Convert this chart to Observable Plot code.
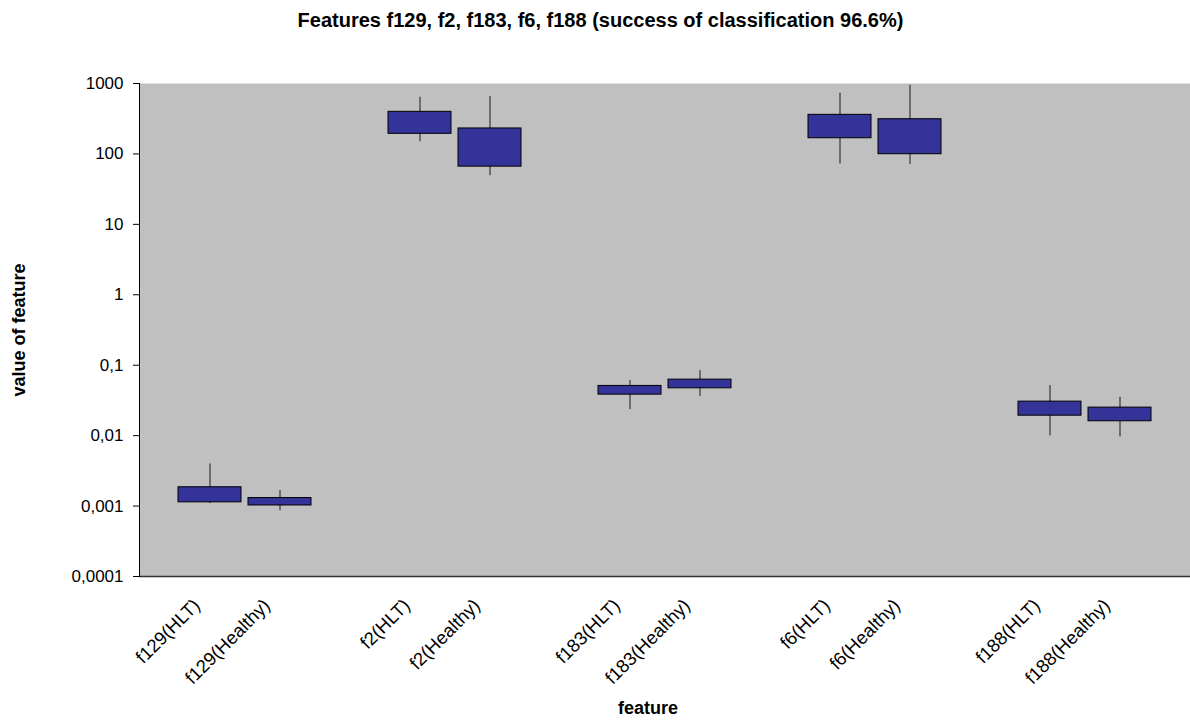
<!DOCTYPE html>
<html><head><meta charset="utf-8">
<script src="https://cdn.jsdelivr.net/npm/d3@7"></script>
<script src="https://cdn.jsdelivr.net/npm/@observablehq/plot@0.6"></script>
<style>body{margin:0;background:#fff;}</style>
</head><body><div id="chart"></div>
<script>
// Category slots (gaps between feature pairs are empty slots)
const categories = ["f129(HLT)", "f129(Healthy)", "gap1", "f2(HLT)", "f2(Healthy)", "gap2",
  "f183(HLT)", "f183(Healthy)", "gap3", "f6(HLT)", "f6(Healthy)", "gap4", "f188(HLT)", "f188(Healthy)"];
const features = ["f129(HLT)", "f129(Healthy)", "f2(HLT)", "f2(Healthy)", "f183(HLT)", "f183(Healthy)",
  "f6(HLT)", "f6(Healthy)", "f188(HLT)", "f188(Healthy)"];
const low  = [0.00109, 0.00086, 149, 49, 0.0234, 0.0361, 72, 71, 0.0099, 0.0096];
const q1   = [0.00113, 0.00102, 193, 66, 0.0382, 0.047, 167, 99, 0.0192, 0.016];
const q3   = [0.00185, 0.0013, 396, 230, 0.0508, 0.0624, 359, 311, 0.0304, 0.025];
const high = [0.00396, 0.00166, 639, 653, 0.0604, 0.0838, 728, 945, 0.0513, 0.035];
const yTicks = [0.0001, 0.001, 0.01, 0.1, 1, 10, 100, 1000];
const title = "Features f129, f2, f183, f6, f188 (success of classification 96.6%)";
const xTitle = "feature";
const yTitle = "value of feature";

const data = features.map((f, i) => ({feature: f, low: low[i], q1: q1[i], q3: q3[i], high: high[i]}));

const chart = Plot.plot({
  width: 1190, height: 722,
  marginTop: 83, marginLeft: 139, marginRight: 0, marginBottom: 146,
  style: {fontFamily: "'Liberation Sans', Arial, sans-serif", fontSize: "17px", color: "#000", background: "#fff"},
  x: {type: "band", domain: categories, range: [174, 1154], paddingInner: 0.1, paddingOuter: 0.05, axis: null},
  y: {type: "log", domain: [1e-4, 1e3], axis: null},
  marks: [
    Plot.frame({fill: "#C0C0C0"}),
    Plot.ruleX(data, {x: "feature", y1: "low", y2: "high", stroke: "#1a1a1a", strokeWidth: 1}),
    Plot.barY(data, {x: "feature", y1: "q1", y2: "q3", fill: "#333399", stroke: "#000", strokeWidth: 1}),
    Plot.ruleY([1e-4], {stroke: "#333", strokeWidth: 1.5}),
    Plot.frame({anchor: "left", stroke: "#000"}),
    Plot.axisY({ticks: yTicks, tickSize: 6, tickPadding: 10, tickFormat: d => String(d).replace(".", ","), label: null}),
    Plot.axisX({tickSize: 0, tickRotate: -45, tickPadding: 26, dx: -13, textAnchor: "end", lineAnchor: "middle",
      fontSize: 18.5, tickFormat: d => d.startsWith("gap") ? "" : d, label: null}),
    Plot.text([title], {text: d => d, frameAnchor: "top", dx: -64.5, dy: -63, lineAnchor: "middle", textAnchor: "middle",
      fontWeight: "bold", fontSize: 20}),
    Plot.text([yTitle], {text: d => d, frameAnchor: "left", dx: -120, rotate: -90, textAnchor: "middle", lineAnchor: "middle",
      fontWeight: "bold", fontSize: 18}),
    Plot.text([xTitle], {text: d => d, frameAnchor: "bottom", dx: -17, dy: 132, textAnchor: "middle", lineAnchor: "middle",
      fontWeight: "bold", fontSize: 18})
  ]
});
document.getElementById("chart").appendChild(chart);
</script>
</body></html>
